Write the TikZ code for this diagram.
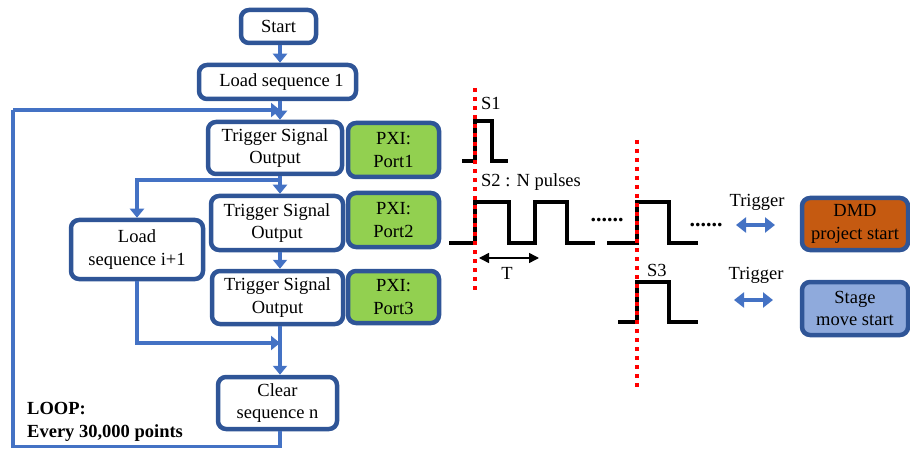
\documentclass[tikz,border=0pt]{standalone}
\usepackage{fontspec}
\setmainfont{Liberation Serif}
\usetikzlibrary{arrows.meta}
\definecolor{flowblue}{HTML}{4472C4}
\definecolor{borderblue}{HTML}{2F5597}
\definecolor{pxigreen}{HTML}{92D050}
\definecolor{dmdorange}{HTML}{C55A11}
\definecolor{stageblue}{HTML}{8FAADC}
\tikzset{
  box/.style={draw=borderblue, line width=4.5pt, rounded corners=8pt, fill=white,
    align=center, inner sep=0pt, font=\fontsize{18.5}{22.5}\selectfont},
  flow/.style={draw=flowblue, line width=3.8pt, -{Triangle[length=9pt,width=14pt]}},
  flowline/.style={draw=flowblue, line width=3.8pt},
  sig/.style={draw=black, line width=4.8pt, miter limit=10},
  redline/.style={draw=red, line width=4.2pt, dash pattern=on 4.2pt off 4.8pt},
  lbl/.style={inner sep=0pt, font=\fontsize{18.5}{22.5}\selectfont},
  dotslbl/.style={inner sep=0pt, font=\fontsize{22}{22}\selectfont\bfseries},
  trig/.style={draw=flowblue, line width=3.5pt, {Triangle[length=10pt,width=15pt]}-{Triangle[length=10pt,width=15pt]}},
}
\begin{document}
\begin{tikzpicture}[x=1pt,y=-1pt]
\useasboundingbox (0,0) rectangle (910,449);
% flow boxes
\node[box, minimum width=75pt, minimum height=33pt] (start) at (278.5,26.5) {Start};
\node[box, minimum width=157pt, minimum height=34pt] (load1) at (277.5,82) {\hspace*{8pt}Load sequence 1};
\node[box, minimum width=134pt, minimum height=52pt] (trig1) at (275,148) {Trigger Signal\\Output};
\node[box, minimum width=132pt, minimum height=54pt] (trig2) at (277,223) {Trigger Signal\\Output};
\node[box, minimum width=131pt, minimum height=53pt] (trig3) at (277.5,297.5) {Trigger Signal\\Output};
\node[box, minimum width=132pt, minimum height=59pt] (loadi) at (137,249.5) {Load\\sequence i+1};
\node[box, minimum width=119pt, minimum height=52pt] (clear) at (277.5,403) {Clear\\sequence n};
% PXI boxes
\node[box, fill=pxigreen, minimum width=91pt, minimum height=54pt] (pxi1) at (393.5,150) {PXI:\\Port1};
\node[box, fill=pxigreen, minimum width=91pt, minimum height=54pt] (pxi2) at (393.5,220) {PXI:\\Port2};
\node[box, fill=pxigreen, minimum width=91pt, minimum height=52pt] (pxi3) at (393.5,297) {PXI:\\Port3};
% right boxes
\node[box, fill=dmdorange, minimum width=106pt, minimum height=52pt] (dmd) at (855,224) {DMD\\project start};
\node[box, fill=stageblue, minimum width=106pt, minimum height=53pt] (stage) at (855,308.5) {Stage\\move start};
% loop label
\node[lbl, anchor=west, align=left, font=\fontsize{18.5}{23}\selectfont\bfseries] (loop) at (27,421.5) {LOOP:\\Every 30,000 points};
% connector coordinates
\coordinate (col) at (280,0);
\coordinate (branch) at (280,180);
\coordinate (merge) at (280,343);
\coordinate (loopbr) at (280,446.5);
\coordinate (loopbl) at (13,446.5);
\coordinate (looptl) at (13,110);
\coordinate (looptr) at (280,110);
% connectors
\draw[flow] (start.south -| col) -- (load1.north -| col);
\draw[flow] (load1.south -| col) -- (trig1.north -| col);
\draw[flow] (trig1.south -| col) -- (trig2.north -| col);
\draw[flow] (branch) -| (loadi.north);
\draw[flow] (trig2.south -| col) -- (trig3.north -| col);
\draw[flow] (trig3.south -| col) -- (clear.north -| col);
\draw[flow] (loadi.south) |- (merge);
\draw[flowline] (clear.south -| col) -- (loopbr) -- (loopbl) -- (looptl);
\draw[flow] (looptl) -- (looptr);
% red dotted lines
\coordinate (r1t) at (475,88);
\coordinate (r1b) at (475,292);
\coordinate (r2t) at (637,140);
\coordinate (r2b) at (637,390);
% signals
\draw[sig] (462,161) -- (475,161) -- (475,121) -- (492,121) -- (492,161) -- (508,161);
\draw[sig] (449,243) -- (475,243) -- (475,202) -- (509,202) -- (509,243) -- (535,243) -- (535,202) -- (567,202) -- (567,243) -- (595,243);
\draw[sig] (607,243) -- (637,243) -- (637,202) -- (669,202) -- (669,243) -- (698,243);
\draw[sig] (618,322) -- (637,322) -- (637,282) -- (669,282) -- (669,322) -- (698,322);
\draw[redline] (r1t) -- (r1b);
\draw[redline] (r2t) -- (r2b);
% labels
\node[lbl, anchor=west] (s1) at (481,103) {S1};
\node[lbl, anchor=west] (s2) at (481,182) {S2 : N pulses};
\node[lbl, anchor=west] (s3) at (647,270) {S3};
\node[dotslbl] (dots1) at (607,220) {......};
\node[dotslbl] (dots2) at (706,225) {......};
\coordinate (ta) at (479,258);
\coordinate (tb) at (539,258);
\draw[line width=1.5pt, {Triangle[length=10pt,width=10pt]}-{Triangle[length=10pt,width=10pt]}] (ta) -- (tb);
\node[lbl] (tlabel) at (507,273) {T};
% triggers
\node[lbl] (trg1) at (757,202) {Trigger};
\node[lbl] (trg2) at (756,275) {Trigger};
\coordinate (a1l) at (736,225);
\coordinate (a1r) at (775,225);
\coordinate (a2l) at (734,300);
\coordinate (a2r) at (773,300);
\draw[trig] (a1l) -- (a1r);
\draw[trig] (a2l) -- (a2r);
\end{tikzpicture}
\end{document}
